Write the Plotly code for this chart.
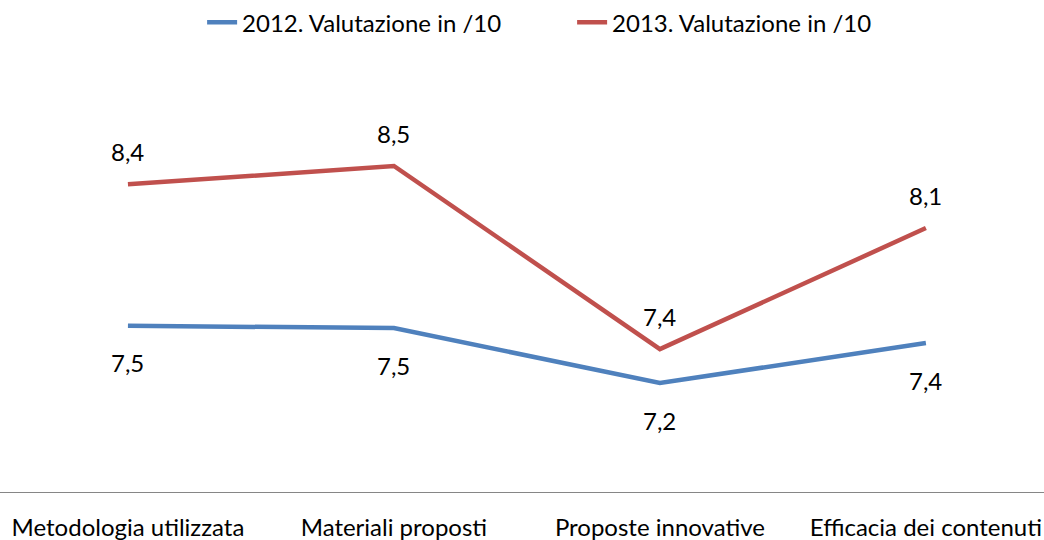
import plotly.graph_objects as go

categories = ["Metodologia utilizzata", "Materiali proposti", "Proposte innovative", "Efficacia dei contenuti"]
series_names = ["2012. Valutazione in /10", "2013. Valutazione in /10"]
values_2012 = [7.54, 7.526, 7.196, 7.436]
values_2013 = [8.39, 8.50, 7.40, 8.127]
colors = ["#4F81BD", "#C0504D"]

FONT = "Lato"
FS = 24
x = list(range(len(categories)))

fig = go.Figure()
for name, vals, col in [(series_names[0], values_2012, colors[0]), (series_names[1], values_2013, colors[1])]:
    fig.add_trace(go.Scatter(x=x, y=vals, mode="lines", name=name,
                             line=dict(color=col, width=4.5)))

annotations = []
for i, v in enumerate(values_2012):
    annotations.append(dict(x=i, y=v, xref="x", yref="y", text=f"{v:.1f}".replace(".", ","),
                            showarrow=False, yshift=-37, font=dict(family=FONT, size=FS, color="#000")))
for i, v in enumerate(values_2013):
    annotations.append(dict(x=i, y=v, xref="x", yref="y", text=f"{v:.1f}".replace(".", ","),
                            showarrow=False, yshift=33, font=dict(family=FONT, size=FS, color="#000")))

fig.update_layout(
    width=1044, height=540,
    margin=dict(l=0, r=0, t=60, b=47, autoexpand=False),
    paper_bgcolor="white", plot_bgcolor="white",
    font=dict(family=FONT, size=FS, color="#000"),
    showlegend=True,
    legend=dict(orientation="h", x=0.548, xanchor="center", y=0.958, yanchor="middle",
                yref="container", font=dict(family=FONT, size=FS), itemwidth=30,
                entrywidth=325, entrywidthmode="pixels", tracegroupgap=0),
    annotations=annotations,
    xaxis=dict(range=[-0.481, 3.444], tickmode="array", tickvals=x, ticktext=categories,
               showgrid=False, zeroline=False, showline=False, ticks="", automargin=False,
               ticklabelstandoff=18, tickfont=dict(family=FONT, size=FS)),
    yaxis=dict(range=[6.535, 9.137], showgrid=False, zeroline=False, showticklabels=False,
               showline=False, ticks="", automargin=False),
    shapes=[dict(type="line", xref="paper", yref="y", x0=0, x1=1, y0=6.535, y1=6.535,
                 line=dict(color="#868686", width=2))],
)
fig.write_html("out.html", config={"displayModeBar": False},
               post_script="document.body.style.margin='0';document.body.style.overflow='hidden';")
